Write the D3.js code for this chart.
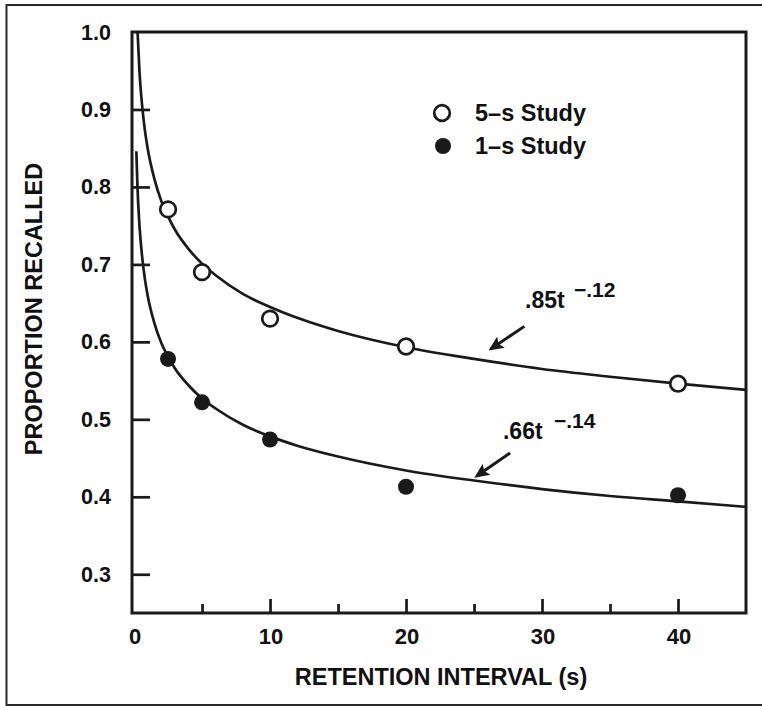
<!DOCTYPE html>
<html>
<head>
<meta charset="utf-8">
<script src="https://cdn.jsdelivr.net/npm/d3@7"></script>
<style>
  html, body { margin: 0; padding: 0; background: #fff; }
  svg text { font-family: "Liberation Sans", Arial, Helvetica, sans-serif; font-weight: bold; fill: #111; }
</style>
</head>
<body>
<svg id="chart" width="762" height="706"></svg>
<script>
// ---- data ----
const retentionIntervals = [2.5, 5, 10, 20, 40];
const study5s = [0.771, 0.690, 0.630, 0.594, 0.546];
const study1s = [0.578, 0.522, 0.474, 0.413, 0.402];

// fitted curves (.85t^-.12 and .66t^-.14)
const fit5sT = [0.26, 0.4, 0.6, 0.8, 1, 1.5, 2, 2.5, 3, 4, 5, 6, 8, 10, 12, 15, 20, 25, 30, 35, 40, 45];
const fit5sV = [1.0, 0.949, 0.904, 0.873, 0.850, 0.810, 0.782, 0.762, 0.745, 0.720, 0.701, 0.686, 0.662, 0.645, 0.631, 0.614, 0.593, 0.578, 0.565, 0.555, 0.546, 0.538];
const fit1sT = [0.17, 0.25, 0.4, 0.6, 0.8, 1, 1.5, 2, 2.5, 3, 4, 5, 6, 8, 10, 12, 15, 20, 25, 30, 35, 40, 45];
const fit1sV = [0.846, 0.801, 0.750, 0.709, 0.681, 0.660, 0.624, 0.599, 0.581, 0.566, 0.544, 0.527, 0.514, 0.493, 0.478, 0.466, 0.452, 0.434, 0.421, 0.410, 0.401, 0.394, 0.387];

const xMajorTicks = [0, 10, 20, 30, 40];
const xMinorTicks = [5, 15, 25, 35];
const yTicks = [0.3, 0.4, 0.5, 0.6, 0.7, 0.8, 0.9, 1.0];
const yTickLabels = ["0.3", "0.4", "0.5", "0.6", "0.7", "0.8", "0.9", "1.0"];
const legendLabels = ["5\u2013s Study", "1\u2013s Study"];
const xTitle = "RETENTION INTERVAL (s)";
const yTitle = "PROPORTION RECALLED";

// ---- layout ----
const svg = d3.select("#chart");
const L = 132, R = 746, T = 32, B = 613;
const x = d3.scaleLinear().domain([-0.15, 45]).range([L, R]);
const y = d3.scaleLinear().domain([0.25, 1.0]).range([B, T]);
const ink = "#1a1a1a";

// outer border
svg.append("rect").attr("x", 6.5).attr("y", 5).attr("width", 770).attr("height", 700)
  .attr("fill", "none").attr("stroke", "#2a2a2a").attr("stroke-width", 2);

// curves
const line = d3.line().x(d => x(d[0])).y(d => y(d[1])).curve(d3.curveMonotoneX);
svg.append("path").datum(d3.zip(fit5sT, fit5sV)).attr("d", line)
  .attr("fill", "none").attr("stroke", ink).attr("stroke-width", 2.7);
svg.append("path").datum(d3.zip(fit1sT, fit1sV)).attr("d", line)
  .attr("fill", "none").attr("stroke", ink).attr("stroke-width", 2.7);

// axes (ticks inward; the 0 tick coincides with the frame)
const xMaj = d3.axisTop(x).tickValues(xMajorTicks.filter(d => d > 0)).tickSize(14).tickFormat("");
const xMin = d3.axisTop(x).tickValues(xMinorTicks).tickSize(9).tickFormat("");
const yAx = d3.axisRight(y).tickValues(yTicks.filter(d => d < 1)).tickSize(18).tickFormat("");
[svg.append("g").attr("transform", `translate(0,${B})`).call(xMaj),
 svg.append("g").attr("transform", `translate(0,${B})`).call(xMin),
 svg.append("g").attr("transform", `translate(${L},0)`).call(yAx)].forEach(g => {
  g.select(".domain").remove();
  g.selectAll("line").attr("stroke", ink).attr("stroke-width", 2.7);
});

// frame
svg.append("rect").attr("x", L).attr("y", T).attr("width", R - L).attr("height", B - T)
  .attr("fill", "none").attr("stroke", ink).attr("stroke-width", 3);

// tick labels
svg.selectAll(".xl").data(xMajorTicks).enter().append("text")
  .attr("x", d => x(d) + 1).attr("y", 644).attr("text-anchor", "middle")
  .style("font-size", "22px").text(d => d);
svg.selectAll(".yl").data(yTicks).enter().append("text")
  .attr("x", 111).attr("y", d => y(d) + 7.5).attr("text-anchor", "end")
  .style("font-size", "21.5px").text((d, i) => yTickLabels[i]);

// axis titles
svg.append("text").attr("x", 441).attr("y", 685).attr("text-anchor", "middle")
  .style("font-size", "23.5px").text(xTitle);
svg.append("text").attr("transform", `translate(42,309) rotate(-90)`).attr("text-anchor", "middle")
  .style("font-size", "23.5px").text(yTitle);

// data points
svg.selectAll(".p5").data(retentionIntervals).enter().append("circle")
  .attr("cx", d => x(d)).attr("cy", (d, i) => y(study5s[i])).attr("r", 7.8)
  .attr("fill", "#fff").attr("stroke", ink).attr("stroke-width", 2.7);
svg.selectAll(".p1").data(retentionIntervals).enter().append("circle")
  .attr("cx", d => x(d)).attr("cy", (d, i) => y(study1s[i])).attr("r", 8)
  .attr("fill", ink);

// legend
const leg = svg.append("g");
leg.append("circle").attr("cx", 442).attr("cy", 113).attr("r", 7.8)
  .attr("fill", "#fff").attr("stroke", ink).attr("stroke-width", 2.7);
leg.append("circle").attr("cx", 443).attr("cy", 146).attr("r", 8).attr("fill", ink);
leg.append("text").attr("x", 475).attr("y", 121).style("font-size", "23.5px").text(legendLabels[0]);
leg.append("text").attr("x", 475).attr("y", 154).style("font-size", "23.5px").text(legendLabels[1]);

// annotations
function annot(tx, ty, main, sup, sx, sy) {
  svg.append("text").attr("x", x(tx)).attr("y", y(ty)).style("font-size", "23px").text(main);
  svg.append("text").attr("x", x(sx)).attr("y", y(sy)).style("font-size", "21px").text(sup);
}
annot(28.75, 0.644, ".85t", "\u2212.12", 32.35, 0.658);
annot(27.13, 0.4747, ".66t", "\u2212.14", 30.88, 0.489);

svg.append("defs").append("marker").attr("id", "ah").attr("viewBox", "0 0 10 10")
  .attr("refX", 8).attr("refY", 5).attr("markerWidth", 15).attr("markerHeight", 15)
  .attr("markerUnits", "userSpaceOnUse").attr("orient", "auto")
  .append("path").attr("d", "M0,0.5 L10,5 L0,9.5 L2,5 Z").attr("fill", ink);
function arrow(t1, v1, t2, v2) {
  svg.append("line").attr("x1", x(t1)).attr("y1", y(v1)).attr("x2", x(t2)).attr("y2", y(v2))
    .attr("stroke", ink).attr("stroke-width", 3).attr("marker-end", "url(#ah)");
}
arrow(28.7, 0.620, 26.25, 0.591);
arrow(27.65, 0.4566, 25.2, 0.4268);
</script>
</body>
</html>
